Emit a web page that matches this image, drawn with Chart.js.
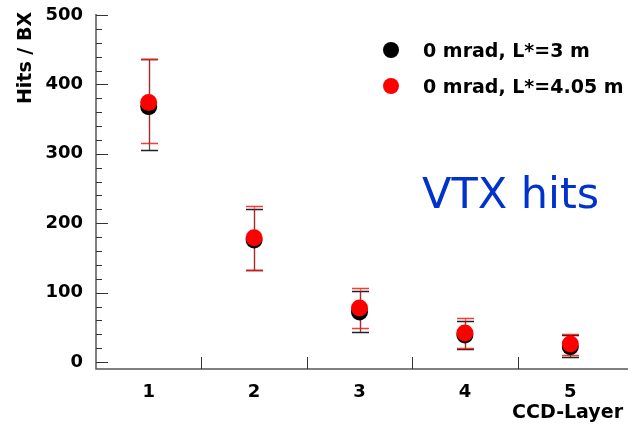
<!DOCTYPE html>
<html>
<head>
<meta charset="utf-8">
<script src="https://cdn.jsdelivr.net/npm/chart.js@4/dist/chart.umd.min.js"></script>
<style>
  html, body { margin: 0; padding: 0; background: #fff; }
  #wrap { width: 633px; height: 428px; }
</style>
</head>
<body>
<div id="wrap"><canvas id="c" width="633" height="428"></canvas></div>
<script>
// CCD layers of the vertex detector
const layers = [1, 2, 3, 4, 5];

// Hits per bunch crossing, 0 mrad crossing angle, L* = 3 m
const hitsL3 = [368, 176, 72, 39, 22];
const hitsL3Hi = [436, 220, 103, 59, 39];
const hitsL3Lo = [305, 132, 43, 19, 7];

// Hits per bunch crossing, 0 mrad crossing angle, L* = 4.05 m
const hitsL405 = [374, 179, 78, 42, 26];
const hitsL405Hi = [436, 225, 107, 64, 41];
const hitsL405Lo = [316, 133, 49, 20, 10];

// Axis ticks
const yMajorTicks = [0, 100, 200, 300, 400, 500];
const yMinorStep = 20;
const xLayerBounds = [1.5, 2.5, 3.5, 4.5];

const seriesNames = ['0 mrad, L*=3 m', '0 mrad, L*=4.05 m'];
const yTitle = 'Hits / BX';
const BOLD = '"DejaVu Sans", sans-serif';

const pts = (ys) => layers.map((x, i) => ({ x, y: ys[i] }));

const errorBars = {
  id: 'errorBars',
  beforeDatasetsDraw(chart) {
    const { ctx, scales: { x, y } } = chart;
    const sets = [
      { lo: hitsL3Lo, hi: hitsL3Hi, line: '#555555', cap: '#222222' },
      { lo: hitsL405Lo, hi: hitsL405Hi, line: 'rgba(255,0,0,0.5)', cap: 'rgba(255,20,20,0.85)' }
    ];
    ctx.save();
    sets.forEach(s => {
      layers.forEach((l, i) => {
        const px = Math.round(x.getPixelForValue(l)) + 0.5;
        const yHi = Math.round(y.getPixelForValue(s.hi[i])) + 0.5;
        const yLo = Math.round(y.getPixelForValue(s.lo[i])) + 0.5;
        ctx.lineWidth = 1.3;
        ctx.strokeStyle = s.line;
        ctx.beginPath();
        ctx.moveTo(px, yHi); ctx.lineTo(px, yLo);
        ctx.stroke();
        ctx.strokeStyle = s.cap;
        ctx.lineWidth = 1.5;
        ctx.beginPath();
        ctx.moveTo(px - 8.5, yHi); ctx.lineTo(px + 8.5, yHi);
        ctx.moveTo(px - 8.5, yLo); ctx.lineTo(px + 8.5, yLo);
        ctx.stroke();
      });
    });
    ctx.restore();
  }
};

const frame = {
  id: 'frame',
  afterDraw(chart) {
    const { ctx, chartArea: a, scales: { x, y } } = chart;
    ctx.save();
    ctx.strokeStyle = '#555555';
    ctx.lineWidth = 1.5;
    // axis lines
    ctx.beginPath();
    ctx.moveTo(a.left, a.top - 1); ctx.lineTo(a.left, a.bottom); ctx.lineTo(a.right + 5, a.bottom);
    ctx.stroke();
    // y ticks, drawn inward
    ctx.lineWidth = 1;
    ctx.strokeStyle = '#333333';
    ctx.beginPath();
    for (let v = 0; v <= 500; v += yMinorStep) {
      const py = Math.round(y.getPixelForValue(v)) + 0.5;
      const len = yMajorTicks.includes(v) ? 12 : 6;
      ctx.moveTo(a.left, py); ctx.lineTo(a.left + len, py);
    }
    // layer boundaries on the x axis
    xLayerBounds.forEach(v => {
      const px = Math.round(x.getPixelForValue(v)) + 0.5;
      ctx.moveTo(px, a.bottom); ctx.lineTo(px, a.bottom - 12);
    });
    ctx.stroke();

    // y axis title
    ctx.save();
    ctx.translate(26, 58);
    ctx.rotate(-Math.PI / 2);
    ctx.font = 'bold 19px ' + BOLD;
    ctx.fillStyle = '#000';
    ctx.textAlign = 'center';
    ctx.textBaseline = 'middle';
    ctx.fillText(yTitle, 0, 0);
    ctx.restore();

    // legend
    const ds = chart.data.datasets;
    const rows = [50, 86];
    ctx.font = 'bold 19px ' + BOLD;
    ctx.textBaseline = 'alphabetic';
    ctx.textAlign = 'left';
    ds.forEach((d, i) => {
      ctx.fillStyle = d.backgroundColor;
      ctx.beginPath();
      ctx.arc(391, rows[i], 8, 0, Math.PI * 2);
      ctx.fill();
      ctx.fillStyle = '#000';
      ctx.fillText(d.label, 423, rows[i] + 7);
    });

    // annotation
    ctx.font = '43px "DejaVu Sans", sans-serif';
    ctx.fillStyle = '#0033cc';
    ctx.fillText('VTX hits', 422, 208);
    ctx.restore();
  }
};

new Chart(document.getElementById('c'), {
  type: 'scatter',
  data: {
    datasets: [
      { label: seriesNames[0], data: pts(hitsL3), backgroundColor: '#000000', borderWidth: 0, pointRadius: 8.5, pointHoverRadius: 8.5, order: 2 },
      { label: seriesNames[1], data: pts(hitsL405), backgroundColor: '#ff0000', borderWidth: 0, pointRadius: 8.5, pointHoverRadius: 8.5, order: 1 }
    ]
  },
  options: {
    responsive: false,
    animation: false,
    layout: { padding: { top: 15, right: 10, left: 0, bottom: 0 } },
    plugins: { legend: { display: false }, tooltip: { enabled: false } },
    scales: {
      x: {
        type: 'linear',
        min: 0.5, max: 5.5,
        grid: { display: false, drawTicks: false },
        border: { display: false },
        afterBuildTicks: (s) => { s.ticks = layers.map(v => ({ value: v })); },
        afterFit: (s) => { s.height = 59; s.paddingLeft = 0; s.paddingRight = 0; },
        ticks: { color: '#000', padding: 13, font: { family: BOLD, size: 18, weight: 'bold' }, maxRotation: 0, autoSkip: false },
        title: { display: true, text: 'CCD-Layer', align: 'end', color: '#000', padding: { top: 3 }, font: { family: BOLD, size: 19, weight: 'bold' } }
      },
      y: {
        min: -10, max: 500,
        grid: { display: false, drawTicks: false },
        border: { display: false },
        afterBuildTicks: (s) => { s.ticks = yMajorTicks.map(v => ({ value: v })); },
        afterFit: (s) => { s.width = 96; s.paddingTop = 0; s.paddingBottom = 0; },
        ticks: { color: '#000', padding: 13, font: { family: BOLD, size: 18, weight: 'bold' } }
      }
    }
  },
  plugins: [errorBars, frame]
});
</script>
</body>
</html>
